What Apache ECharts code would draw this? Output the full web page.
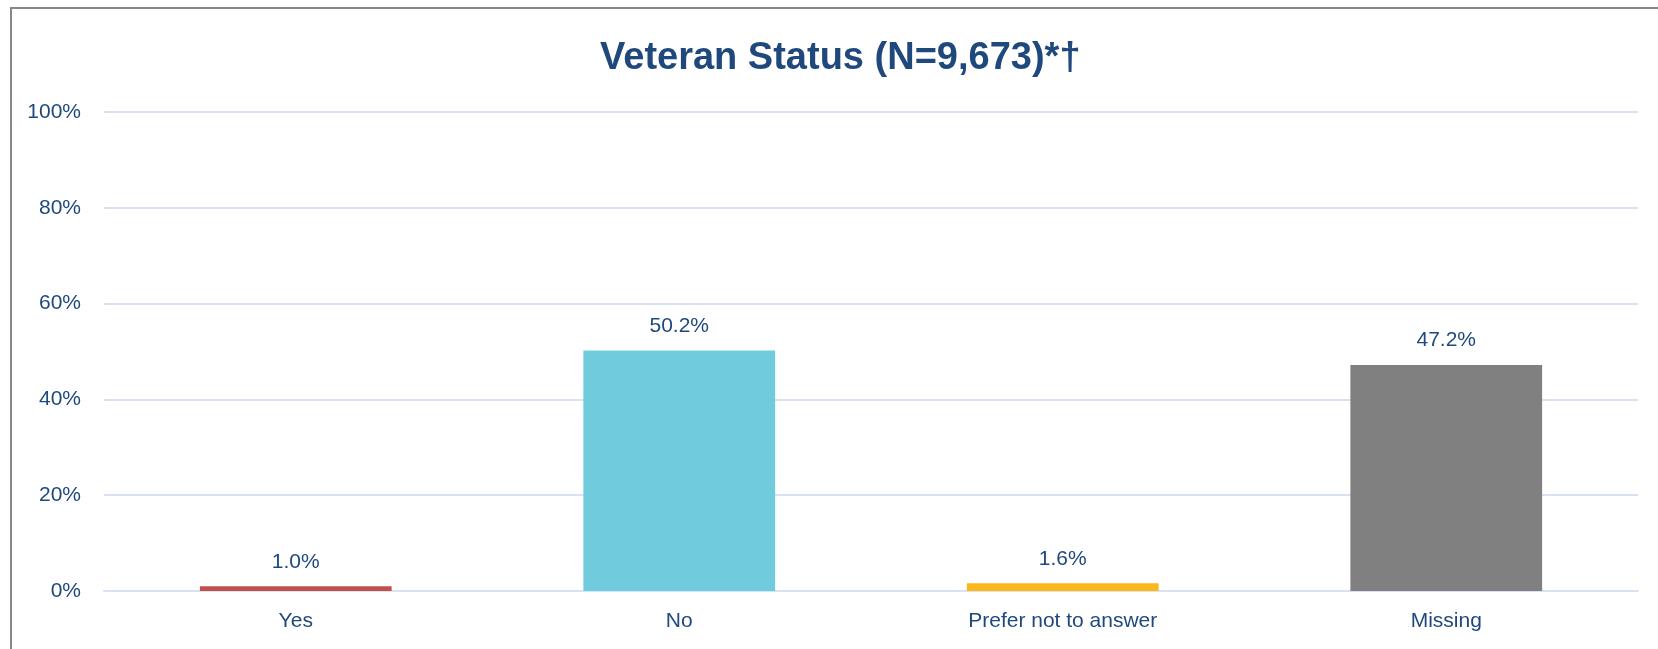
<!DOCTYPE html>
<html lang="en">

<head>
    <meta http-equiv="content-type" content="text/html; charset=utf-8"/>
    <title>Veteran Status</title>
    <script src="https://cdn.jsdelivr.net/npm/echarts@6.0.0/dist/echarts.min.js"></script>
    <style>
        html, body {
            height: 100%;
            margin: 0;
            background: #fff;
        }

        .chart {
            position: absolute;
            left: 0;
            top: 0;
            width: 1658px;
            height: 649px;
        }

        .frame {
            position: absolute;
            left: 10px;
            top: 7px;
            width: 1700px;
            height: 700px;
            border-left: 2px solid #888;
            border-top: 2px solid #888;
            pointer-events: none;
        }
    </style>
</head>

<body>
<div class="chart"></div>
<div class="frame"></div>
<script>
    const categories = ["Yes", "No", "Prefer not to answer", "Missing"];
    const values = [1.0, 50.2, 1.6, 47.2];
    const barColors = ["#C0504D", "#70CBDC", "#FBB81B", "#808080"];
    const yTicks = [0, 20, 40, 60, 80, 100];

    const textColor = "#1F497D";
    const fontFamily = "'Liberation Sans', Arial, sans-serif";

    const chart = echarts.init(document.querySelector(".chart"));

    let option = {
        animation: false,
        title: {
            text: "Veteran Status (N=9,673)*\u2020",
            left: 595,
            top: 35,
            textStyle: {
                color: textColor,
                fontFamily: fontFamily,
                fontWeight: "bold",
                fontSize: 38
            }
        },
        grid: {
            left: 104,
            right: 20,
            top: 112,
            bottom: 58
        },
        xAxis: {
            type: "category",
            data: categories,
            axisLine: {
                show: true,
                lineStyle: {color: "#D9E2F3", width: 2}
            },
            axisTick: {show: false},
            axisLabel: {
                color: textColor,
                fontFamily: fontFamily,
                fontSize: 21,
                margin: 20
            }
        },
        yAxis: {
            type: "value",
            min: yTicks[0],
            max: yTicks[yTicks.length - 1],
            interval: 20,
            axisLine: {show: false},
            axisTick: {show: false},
            axisLabel: {
                color: textColor,
                fontFamily: fontFamily,
                fontSize: 21,
                margin: 23,
                formatter: "{value}%"
            },
            splitLine: {
                lineStyle: {color: "#D9E2F3", width: 2}
            }
        },
        series: [
            {
                type: "bar",
                barWidth: "50%",
                data: values.map((v, i) => ({
                    value: v,
                    itemStyle: {color: barColors[i]}
                })),
                label: {
                    show: true,
                    position: "top",
                    distance: 14,
                    color: textColor,
                    fontFamily: fontFamily,
                    fontSize: 21,
                    formatter: p => p.value.toFixed(1) + "%"
                }
            }
        ]
    };
    chart.setOption(option);

    window.addEventListener("resize", function () {
        chart.resize();
    });
</script>
</body>

</html>
